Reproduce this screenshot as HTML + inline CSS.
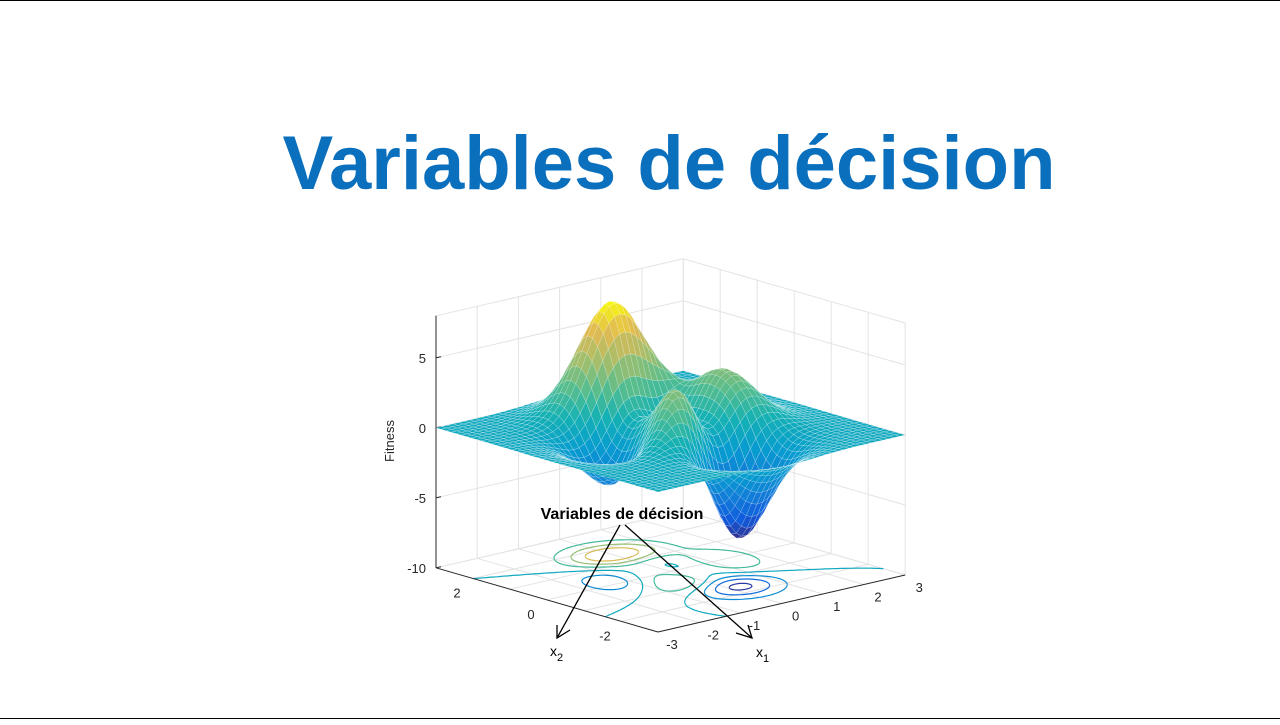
<!DOCTYPE html>
<html><head><meta charset="utf-8"><style>
body{margin:0;background:#fff;width:1280px;height:720px;overflow:hidden;font-family:"Liberation Sans",sans-serif}
</style></head><body>
<svg id="s" width="1280" height="720" viewBox="0 0 1280 720">
<line x1="0" y1="0.5" x2="1280" y2="0.5" stroke="#000"/>
<line x1="0" y1="718.5" x2="1280" y2="718.5" stroke="#000"/>
<text x="669" y="189" text-anchor="middle" font-size="76" font-weight="bold" fill="#0a6fbd">Variables de décision</text>
<g id="grid"></g><g id="cont"></g><g id="axes"></g><g id="surf"></g>
<text transform="translate(394,441) rotate(-90)" text-anchor="middle" font-size="13" fill="#262626">Fitness</text>
<text x="622" y="519" text-anchor="middle" font-size="16" font-weight="bold" fill="#000">Variables de décision</text>
<g stroke="#000" stroke-width="1.3" fill="none">
<line x1="620" y1="525" x2="557" y2="638"/><polyline points="557,625 557,638 570,630"/>
<line x1="625" y1="525" x2="752" y2="638"/><polyline points="736,633 752,638 748,625"/>
</g>
<text x="550" y="656" font-size="14" fill="#000">x<tspan font-size="11" dy="5">2</tspan></text>
<text x="756" y="657" font-size="14" fill="#000">x<tspan font-size="11" dy="5">1</tspan></text>
</svg>
<script>
const zTicks=[-10,-5,0,5];
const xTicks=[-3,-2,-1,0,1,2,3];
const yTicks=[-2,0,2];
const contourLevels=[-6,-4,-2,0,2,4,6];
const peakAmps=[3,-10,-1/3];
const zMin=-10,zMax=8,cMin=-6.55,cMax=8.1;
const N=44,M=70;
const NS="http://www.w3.org/2000/svg";
function P(x,y,z){const a=x+3,b=y+3;return [658+41.2*a-37*b,632-9.5*a-10.7*b-14*(z-zMin)];}
function f(x,y){return peakAmps[0]*((1-x)**2)*Math.exp(-x*x-((y+1)**2))+peakAmps[1]*(x/5-(x**3)-(y**5))*Math.exp(-x*x-y*y)+peakAmps[2]*Math.exp(-((x+1)**2)-y*y);}
const stops=[[53,42,135],[15,92,221],[18,125,216],[7,156,207],[21,177,180],[89,189,140],[165,190,107],[225,185,82],[249,251,14]];
function parula(v){let t=Math.max(0,Math.min(1,(v-cMin)/(cMax-cMin)))*8;const i=Math.min(7,Math.floor(t)),u=t-i;const c=stops[i].map((s,k)=>Math.round(s+(stops[i+1][k]-s)*u));return `rgb(${c})`;}
function el(tag,at,parent){const e=document.createElementNS(NS,tag);for(const k in at)e.setAttribute(k,at[k]);parent.appendChild(e);return e;}
const grid=document.getElementById('grid'),axes=document.getElementById('axes');
const gs={stroke:'#e3e3e3','stroke-width':1};
for(const z of zTicks.concat([zMax])){let a=P(-3,3,z),b=P(3,3,z),c=P(3,-3,z);
 const l=el('polyline',Object.assign({points:`${a} ${b} ${c}`,fill:'none'},gs),grid);
 }
for(const x of xTicks){let a=P(x,3,zMin),b=P(x,3,zMax),c=P(x,-3,zMin);
 const l=el('polyline',Object.assign({points:`${c} ${a} ${b}`,fill:'none'},gs),grid);
 }
for(const y of [-3,-2,-1,0,1,2,3]){let a=P(-3,y,zMin),b=P(3,y,zMin),c=P(3,y,zMax);
 const l=el('polyline',Object.assign({points:`${a} ${b} ${c}`,fill:'none'},gs),grid);
 }
const ax=[[P(-3,3,zMin),P(-3,3,zMax)],[P(-3,3,zMin),P(-3,-3,zMin)],[P(-3,-3,zMin),P(3,-3,zMin)]];
ax.forEach((s,i)=>{const l=el('line',{x1:s[0][0],y1:s[0][1],x2:s[1][0],y2:s[1][1],stroke:'#262626','stroke-width':1},axes);
 });
for(const z of zTicks){const p=P(-3,3,z);const t=el('text',{x:p[0]-10,y:p[1]+5,'text-anchor':'end','font-size':13,fill:'#262626'},axes);t.textContent=z;
 
 el('line',{x1:p[0],y1:p[1],x2:p[0]+5,y2:p[1]-1,stroke:'#262626'},axes);}
for(const x of xTicks){const p=P(x,-3,zMin);const t=el('text',{x:p[0]+14,y:p[1]+17,'text-anchor':'middle','font-size':13,fill:'#262626'},axes);t.textContent=x;
 }
for(const y of yTicks){const p=P(-3,y,zMin);const t=el('text',{x:p[0]-16,y:p[1]+19,'text-anchor':'middle','font-size':13,fill:'#262626'},axes);t.textContent=y;
 }
const cont=document.getElementById('cont');const h=6/M;
for(const L of contourLevels){let d='';
 for(let i=0;i<M;i++)for(let j=0;j<M;j++){const x0=-3+i*h,y0=-3+j*h;
  const c=[[x0,y0],[x0+h,y0],[x0+h,y0+h],[x0,y0+h]];const v=c.map(q=>f(q[0],q[1])-L);const pts=[];
  for(let k=0;k<4;k++){const k2=(k+1)%4;if((v[k]>0)!=(v[k2]>0)){const t=v[k]/(v[k]-v[k2]);pts.push(P(c[k][0]+(c[k2][0]-c[k][0])*t,c[k][1]+(c[k2][1]-c[k][1])*t,zMin));}}
  for(let k=0;k+1<pts.length;k+=2)d+=`M${pts[k][0].toFixed(1)},${pts[k][1].toFixed(1)}L${pts[k+1][0].toFixed(1)},${pts[k+1][1].toFixed(1)}`;}
 const p=el('path',{d:d,stroke:parula(L),fill:'none','stroke-width':1.2},cont);
 }
const surf=document.getElementById('surf');const g=6/N;const quads=[];
for(let i=0;i<N;i++)for(let j=0;j<N;j++){const x0=-3+i*g,y0=-3+j*g;
 const c=[[x0,y0],[x0+g,y0],[x0+g,y0+g],[x0,y0+g]].map(q=>[q[0],q[1],f(q[0],q[1])]);
 const zc=c.reduce((s,q)=>s+q[2],0)/4;const depth=9.5*(x0+3)+10.7*(y0+3);
 quads.push({c,zc,depth});}
quads.sort((a,b)=>b.depth-a.depth);
for(const q of quads){const pts=q.c.map(p=>P(p[0],p[1],p[2]).map(v=>v.toFixed(1)).join(',')).join(' ');
 const col=parula(q.zc);
 const e=el('polygon',{points:pts,fill:col,stroke:'rgba(255,255,255,0.5)','stroke-width':0.4,'stroke-linejoin':'round'},surf);
 }
</script>
</body></html>
